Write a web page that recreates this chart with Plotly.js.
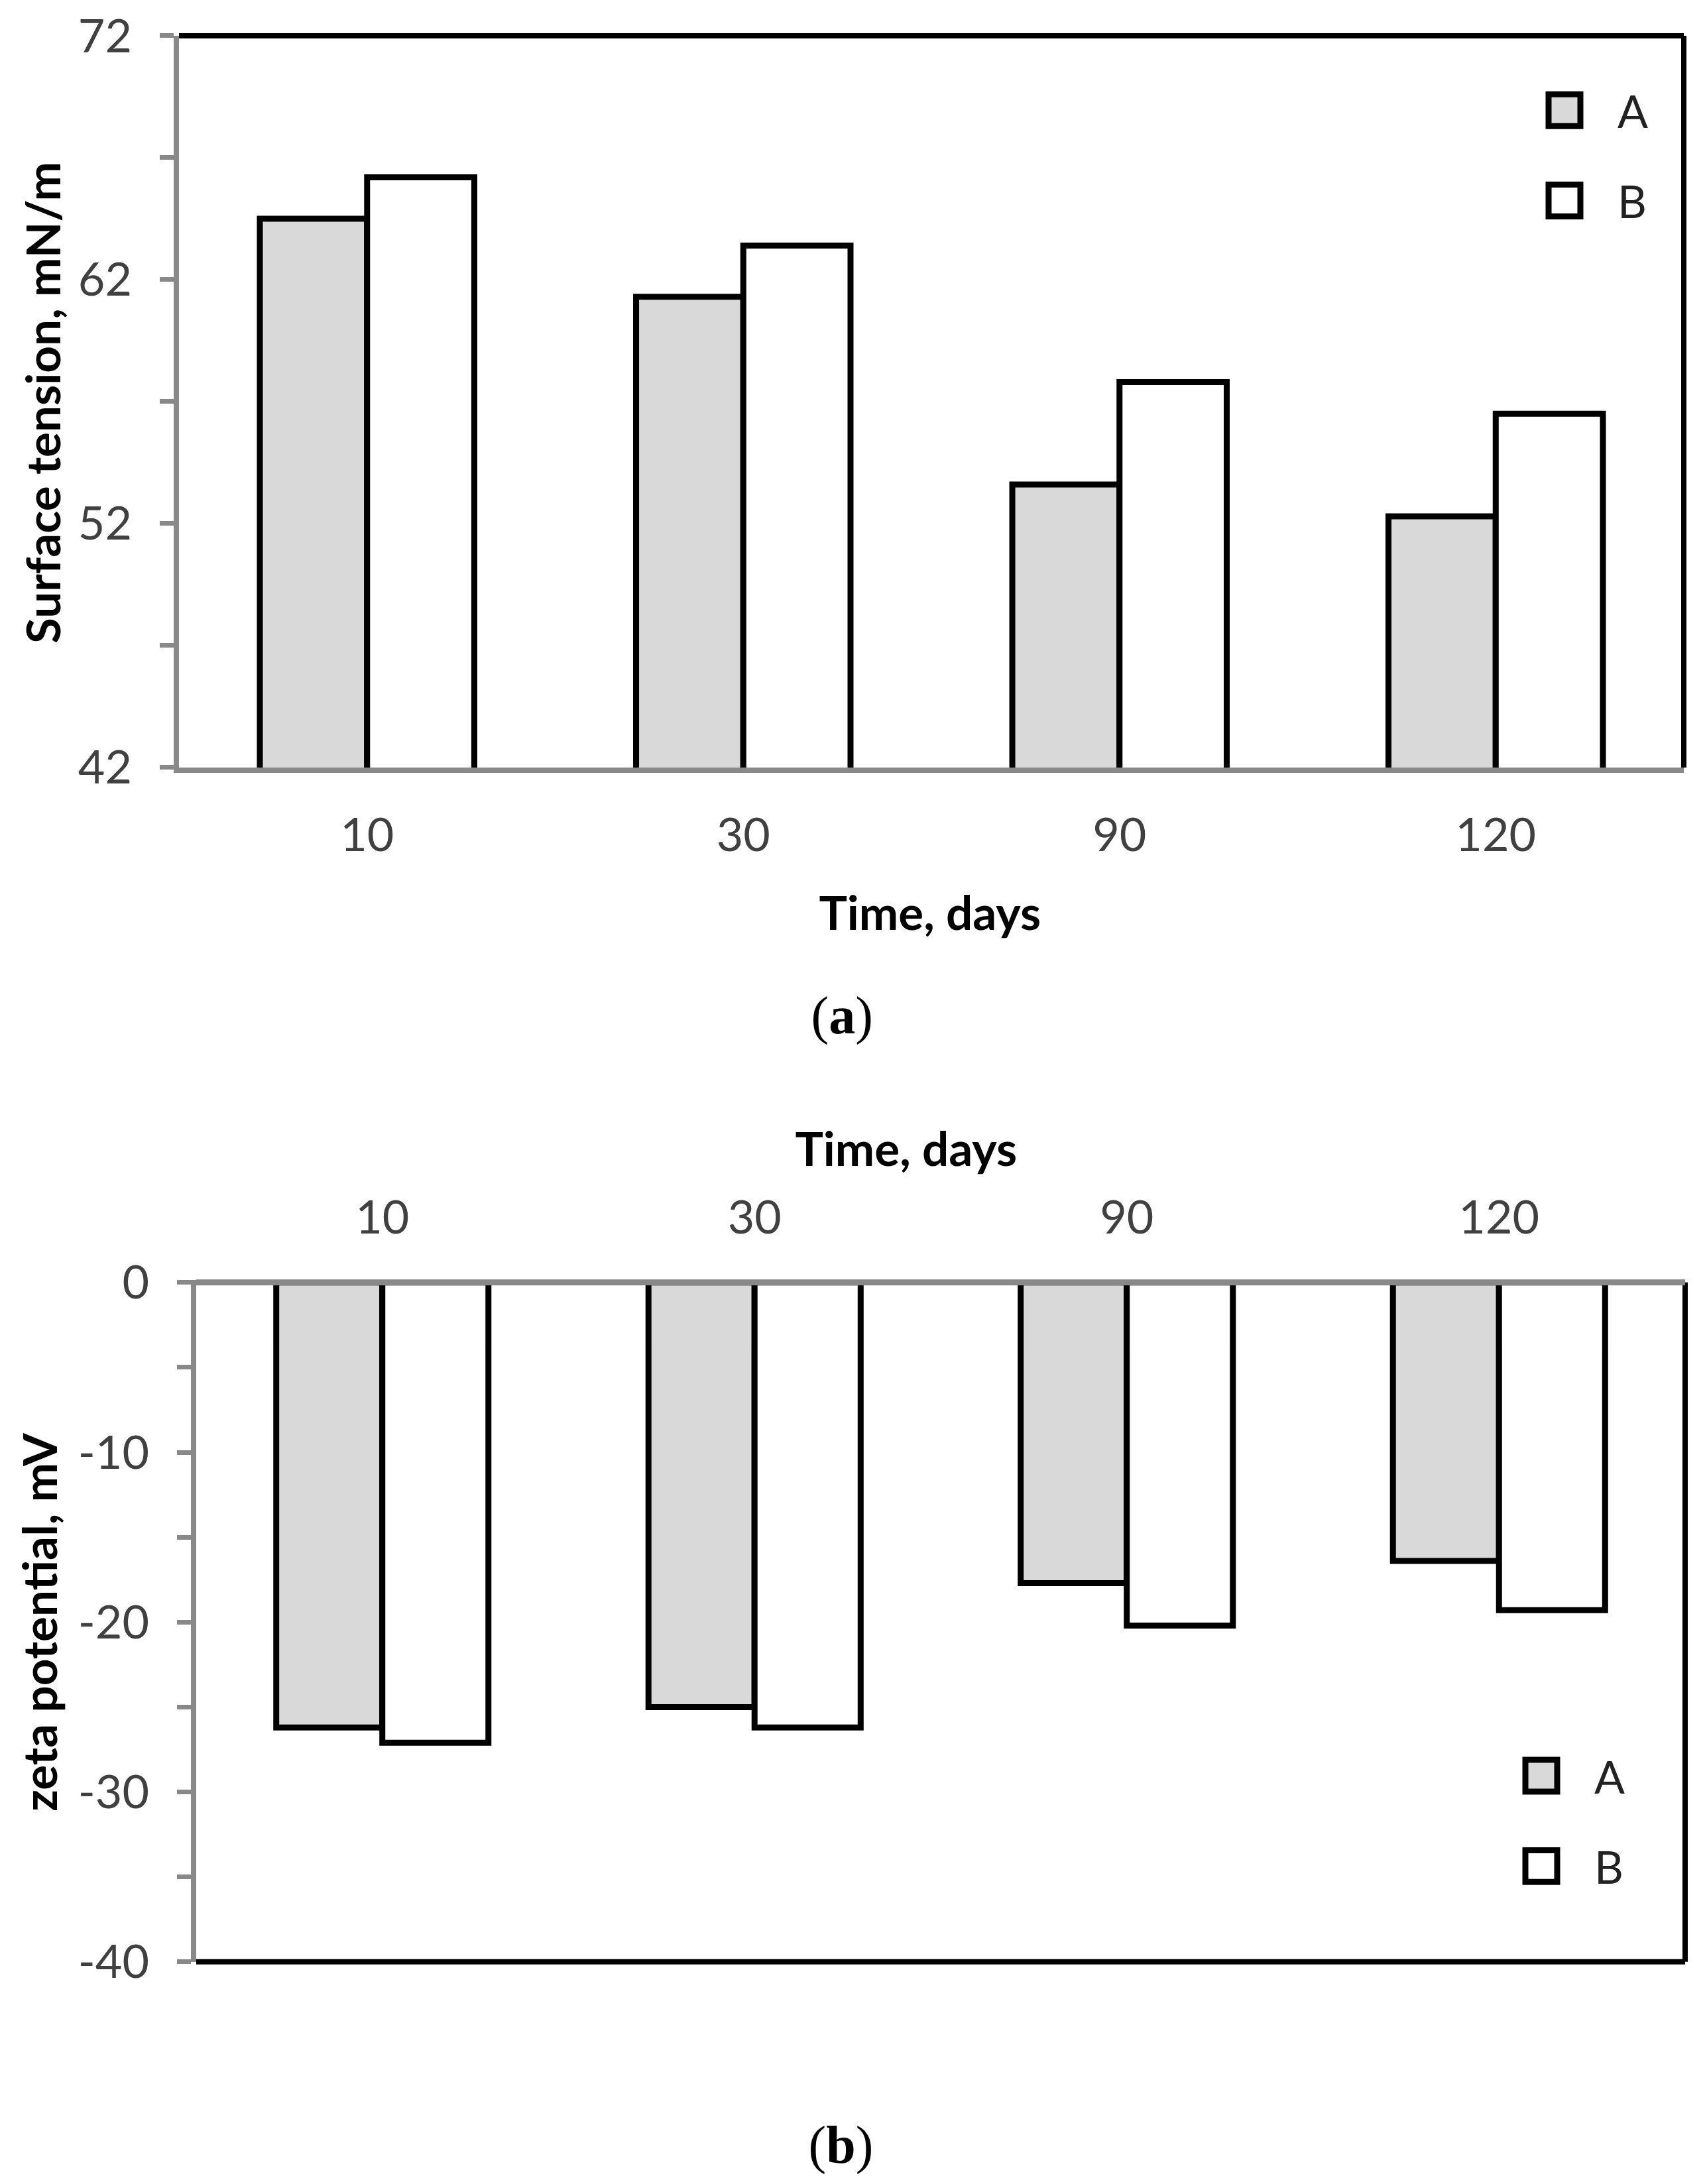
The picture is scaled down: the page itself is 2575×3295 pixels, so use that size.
<!DOCTYPE html>
<html>
<head>
<meta charset="utf-8">
<script src="https://cdn.plot.ly/plotly-3.0.1.min.js"></script>
<style>
html,body{margin:0;padding:0;background:#fff;overflow:hidden;width:2575px;height:3295px;}
#chart{width:644px;height:824px;transform:scale(3.99845);transform-origin:0 0;}
</style>
</head>
<body>
<div id="chart"></div>
<script>
// ---------------- data ----------------
const days = ['10', '30', '90', '120'];
const seriesNames = ['A', 'B'];
const tensionA = [64.5, 61.3, 53.6, 52.3];
const tensionB = [66.2, 63.4, 57.8, 56.5];
const zetaA = [-26.2, -25.0, -17.7, -16.4];
const zetaB = [-27.1, -26.2, -20.2, -19.3];
const tensionRange = [42, 72];
const tensionTickVals = [42, 52, 62, 72];
const zetaRange = [-40, 0];
const zetaTickVals = [0, -10, -20, -30, -40];
const zetaTickText = ['0', '-10', '-20', '-30', '-40'];
const xTitle = 'Time, days';
const tensionTitle = 'Surface tension, mN/m';
const zetaTitle = 'zeta potential, mV';
const panelA = '(<b>a</b>)';
const panelB = '(<b>b</b>)';

// ---------------- styling ----------------
const W = 2575, H = 3295;            // picture size
const S = W / 644;                   // CSS scale of the 644x824 figure
const px = v => v / S;               // picture px -> figure px
const fx = v => v / W;               // picture x -> paper
const fy = v => 1 - v / H;           // picture y -> paper
const FONT = 'Lato, "Open Sans", sans-serif';
const SERIF = '"Liberation Serif", "DejaVu Serif", serif';
const gray = '#898989';
const clear = 'rgba(0,0,0,0)';
const fillA = '#d9d9d9';
const tickFont = {family: FONT, size: px(70), color: '#404040'};
const titleFont = {family: FONT, size: px(71), color: '#000'};
const capFont = {family: SERIF, size: px(80), color: '#000'};
const legendFont = {family: FONT, size: px(68), color: '#222'};

function bar(x, y, name, fill, xa, ya, lg) {
  return {type: 'bar', x: x, y: y, name: name, xaxis: xa, yaxis: ya, legend: lg,
    legendgroup: lg + name, marker: {color: fill, line: {color: '#000', width: px(9)}}};
}
const data = [
  bar(days, tensionA, seriesNames[0], fillA, 'x', 'y', 'legend'),
  bar(days, tensionB, seriesNames[1], '#ffffff', 'x', 'y', 'legend'),
  bar(days, zetaA, seriesNames[0], fillA, 'x2', 'y2', 'legend2'),
  bar(days, zetaB, seriesNames[1], '#ffffff', 'x2', 'y2', 'legend2')
];

// y axes: visible tick marks come from the minor ticks (every 5),
// the invisible major ticks only push the labels away from the line
const yCommon = {showgrid: false, zeroline: false, showline: true, linecolor: gray, linewidth: px(8),
  ticks: 'outside', ticklen: px(49), tickwidth: px(7), tickcolor: clear, tickfont: tickFont,
  tickmode: 'array', fixedrange: true};
const minorTick = {dtick: 5, ticks: 'outside', ticklen: px(21), tickwidth: px(7), tickcolor: gray};
const xCommon = {type: 'category', showgrid: false, zeroline: false, showline: true, linecolor: gray,
  linewidth: px(8), ticks: 'outside', tickcolor: clear, tickfont: tickFont, fixedrange: true};

const layout = {
  width: 644, height: 824, margin: {l: 0, r: 0, t: 0, b: 0},
  paper_bgcolor: '#fff', plot_bgcolor: '#fff', font: {family: FONT},
  barmode: 'group', bargap: 0.43, bargroupgap: 0, showlegend: true,
  xaxis: Object.assign({}, xCommon, {domain: [fx(270), fx(2540)], anchor: 'y', side: 'bottom', ticklen: px(34)}),
  yaxis: Object.assign({}, yCommon, {domain: [fy(1158), fy(54)], anchor: 'x', range: tensionRange,
    tickvals: tensionTickVals, minor: Object.assign({tick0: 42}, minorTick)}),
  xaxis2: Object.assign({}, xCommon, {domain: [fx(296), fx(2542)], anchor: 'y2', side: 'top',
    linewidth: px(4), ticklen: px(42)}),
  yaxis2: Object.assign({}, yCommon, {domain: [fy(2960), fy(1935)], anchor: 'x2', range: zetaRange,
    tickvals: zetaTickVals, ticktext: zetaTickText, minor: Object.assign({tick0: 0}, minorTick)}),
  legend: {x: fx(2360) - 20 / 644, y: fy(96), xanchor: 'left', yanchor: 'top', bgcolor: clear,
    font: legendFont, tracegroupgap: px(36), traceorder: 'grouped'},
  legend2: {x: fx(2325) - 20 / 644, y: fy(2609), xanchor: 'left', yanchor: 'top', bgcolor: clear,
    font: legendFont, tracegroupgap: px(36), traceorder: 'grouped'},
  shapes: [
    // black chart-area border (top/right of panel a, bottom/right of panel b)
    {type: 'line', xref: 'x domain', yref: 'y domain', x0: 0, x1: 1, y0: 1, y1: 1, line: {color: '#000', width: px(8)}},
    {type: 'line', xref: 'x domain', yref: 'y domain', x0: 1, x1: 1, y0: 0, y1: 1, line: {color: '#000', width: px(8)}},
    {type: 'line', xref: 'x2 domain', yref: 'y2 domain', x0: 0, x1: 1, y0: 0, y1: 0, line: {color: '#000', width: px(8)}},
    {type: 'line', xref: 'x2 domain', yref: 'y2 domain', x0: 1, x1: 1, y0: 0, y1: 1, line: {color: '#000', width: px(8)}},
    // gray zero line of panel b drawn over the bars' top edges
    {type: 'rect', xref: 'x2 domain', yref: 'y2 domain', x0: 0, x1: 1, ysizemode: 'pixel', yanchor: 1,
     y0: -px(4.5), y1: px(4.5), fillcolor: gray, line: {width: 0}}
  ],
  annotations: [
    {text: '<b>' + tensionTitle + '</b>', x: fx(63), y: fy(608), textangle: -90, font: titleFont},
    {text: '<b>' + xTitle + '</b>', x: fx(1403), y: fy(1375), font: titleFont},
    {text: panelA, x: fx(1269), y: fy(1533), font: capFont},
    {text: '<b>' + xTitle + '</b>', x: fx(1366), y: fy(1730), font: titleFont},
    {text: '<b>' + zetaTitle + '</b>', x: fx(58), y: fy(2447), textangle: -90, font: titleFont},
    {text: panelB, x: fx(1268), y: fy(3238), font: capFont}
  ].map(a => Object.assign({xref: 'paper', yref: 'paper', showarrow: false, xanchor: 'center', yanchor: 'middle'}, a))
};

Plotly.newPlot('chart', data, layout, {displayModeBar: false, staticPlot: true});
</script>
</body>
</html>
